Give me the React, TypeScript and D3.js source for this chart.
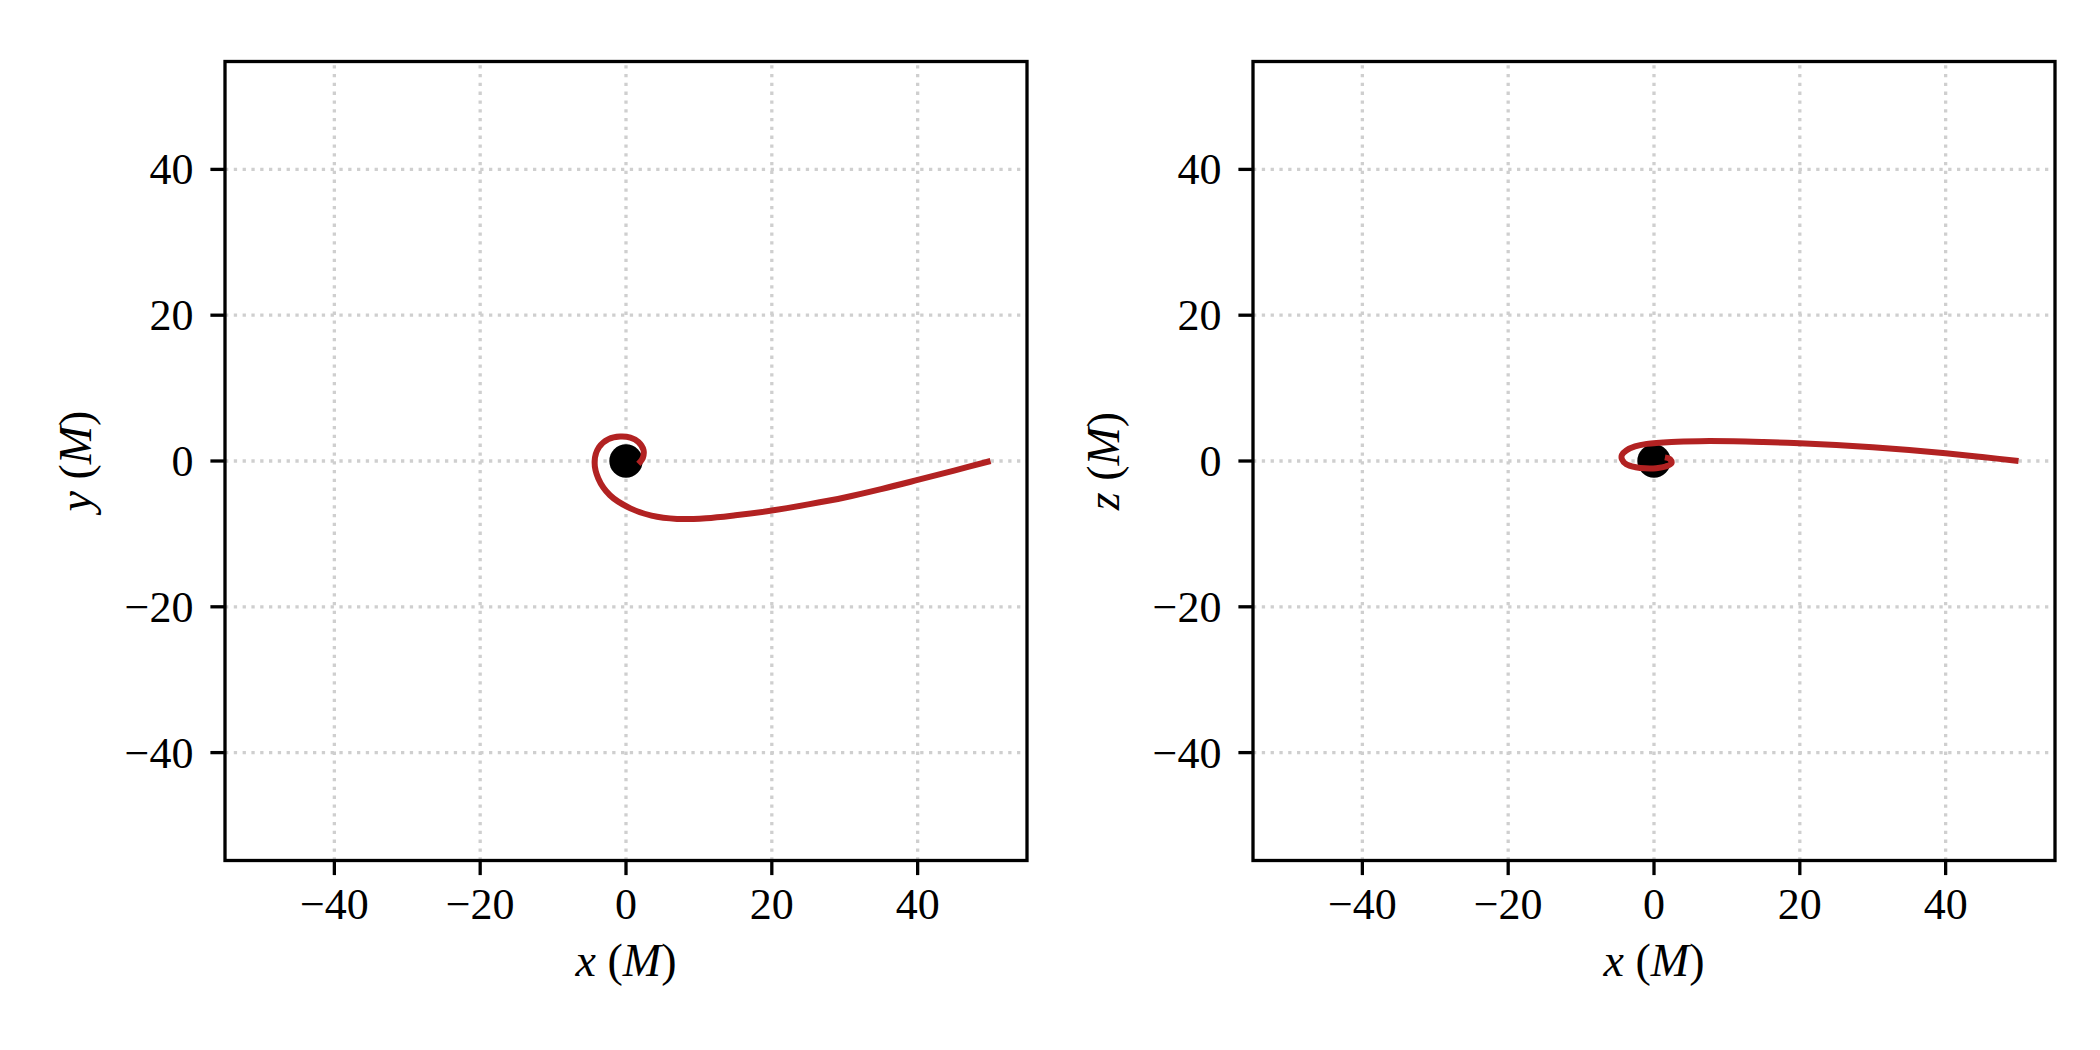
import React from "react";
import * as d3 from "d3";

// ---------- data ----------
const ticks = [-40, -20, 0, 20, 40];
const domainX: [number, number] = [-55, 55];
const domainY: [number, number] = [-54.8, 54.8];

// trajectory projected on the x-y plane (start far right, spiral into the hole)
const orbitX_xy = [50, 45, 40, 35, 30, 25, 20, 15, 11, 7, 3.5, 0.6, -2.2, -3.8, -4.3, -3.7, -2.4, -0.8, 0.6, 1.7, 2.4, 2.3, 1.7];
const orbitY_xy = [0, -1.32, -2.6, -3.85, -5.0, -5.95, -6.8, -7.45, -7.85, -7.95, -7.5, -6.5, -4.7, -2.4, 0, 1.9, 3.0, 3.35, 3.2, 2.6, 1.5, 0.4, -0.4];

// trajectory projected on the x-z plane
const orbitX_xz = [50, 45, 40, 35, 30, 25, 20, 15, 10.9, 6.3, 2.4, -1.0, -2.6, -3.8, -4.4, -4.4, -3.8, -2.5, -1.2, 0.3, 1.6, 2.4, 2.2, 1.5];
const orbitZ_xz = [0, 0.55, 1.07, 1.52, 1.9, 2.2, 2.43, 2.6, 2.7, 2.72, 2.62, 2.35, 2.0, 1.45, 0.85, 0.25, -0.45, -0.85, -1.0, -0.98, -0.75, -0.3, 0.25, 0.5];

const holeX = [0];
const holeY = [0];

const panels = [
  { left: 225, xs: orbitX_xy, ys: orbitY_xy, yVar: "y" },
  { left: 1253, xs: orbitX_xz, ys: orbitZ_xz, yVar: "z" },
];

const TOP = 61.5;
const BOTTOM = 860.5;
const WIDTH = 802;
const FONT = "'Liberation Serif', 'Times New Roman', serif";
const FS = 44;
const TICK = 14.6;
const LW = 3.3;

function minus(v: number) {
  return v < 0 ? "\u2212" + Math.abs(v) : String(v);
}

function Panel({ left, xs, ys, yVar }: { left: number; xs: number[]; ys: number[]; yVar: string }) {
  const x = d3.scaleLinear().domain(domainX).range([left, left + WIDTH]);
  const y = d3.scaleLinear().domain(domainY).range([BOTTOM, TOP]);
  const pts: [number, number][] = xs.map((v, i) => [v, ys[i]]);
  const line = d3
    .line<[number, number]>()
    .x((d) => x(d[0]))
    .y((d) => y(d[1]))
    .curve(d3.curveCatmullRom.alpha(0.5));
  const cy = (TOP + BOTTOM) / 2;
  const cx = left + WIDTH / 2;
  return (
    <g>
      {/* grid */}
      {ticks.map((t) => (
        <line key={"gx" + t} x1={x(t)} x2={x(t)} y1={BOTTOM} y2={TOP} stroke="#cfcfcf" strokeWidth={3.3} strokeDasharray="3.3 5.5" />
      ))}
      {ticks.map((t) => (
        <line key={"gy" + t} x1={left} x2={left + WIDTH} y1={y(t)} y2={y(t)} stroke="#cfcfcf" strokeWidth={3.3} strokeDasharray="3.3 5.5" />
      ))}
      {/* black hole */}
      {holeX.map((h, i) => (
        <circle key={"h" + i} cx={x(h)} cy={y(holeY[i])} r={16.7} fill="#000" />
      ))}
      {/* trajectory */}
      <path d={line(pts) || ""} fill="none" stroke="#b22222" strokeWidth={6} strokeLinejoin="round" />
      {/* frame */}
      <rect x={left} y={TOP} width={WIDTH} height={BOTTOM - TOP} fill="none" stroke="#000" strokeWidth={LW} />
      {/* x ticks */}
      {ticks.map((t) => (
        <g key={"tx" + t}>
          <line x1={x(t)} x2={x(t)} y1={BOTTOM} y2={BOTTOM + TICK} stroke="#000" strokeWidth={LW} />
          <text x={x(t)} y={919} textAnchor="middle" fontFamily={FONT} fontSize={FS}>
            {minus(t)}
          </text>
        </g>
      ))}
      {/* y ticks */}
      {ticks.map((t) => (
        <g key={"ty" + t}>
          <line x1={left - TICK} x2={left} y1={y(t)} y2={y(t)} stroke="#000" strokeWidth={LW} />
          <text x={left - TICK - 17} y={y(t) + 15} textAnchor="end" fontFamily={FONT} fontSize={FS}>
            {minus(t)}
          </text>
        </g>
      ))}
      {/* axis labels */}
      <text x={cx} y={976} textAnchor="middle" fontFamily={FONT} fontSize={FS + 2}>
        <tspan fontStyle="italic">x</tspan>
        <tspan> (</tspan>
        <tspan fontStyle="italic">M</tspan>
        <tspan>)</tspan>
      </text>
      <text transform={`translate(${left - 134},${cy}) rotate(-90)`} textAnchor="middle" fontFamily={FONT} fontSize={FS + 2}>
        <tspan fontStyle="italic">{yVar}</tspan>
        <tspan> (</tspan>
        <tspan fontStyle="italic">M</tspan>
        <tspan>)</tspan>
      </text>
    </g>
  );
}

export default function App() {
  return (
    <svg width={2100} height={1050} style={{ position: "absolute", left: 0, top: 0, background: "#fff" }}>
      <rect x={0} y={0} width={2100} height={1050} fill="#fff" />
      {panels.map((p, i) => (
        <Panel key={i} {...p} />
      ))}
    </svg>
  );
}
